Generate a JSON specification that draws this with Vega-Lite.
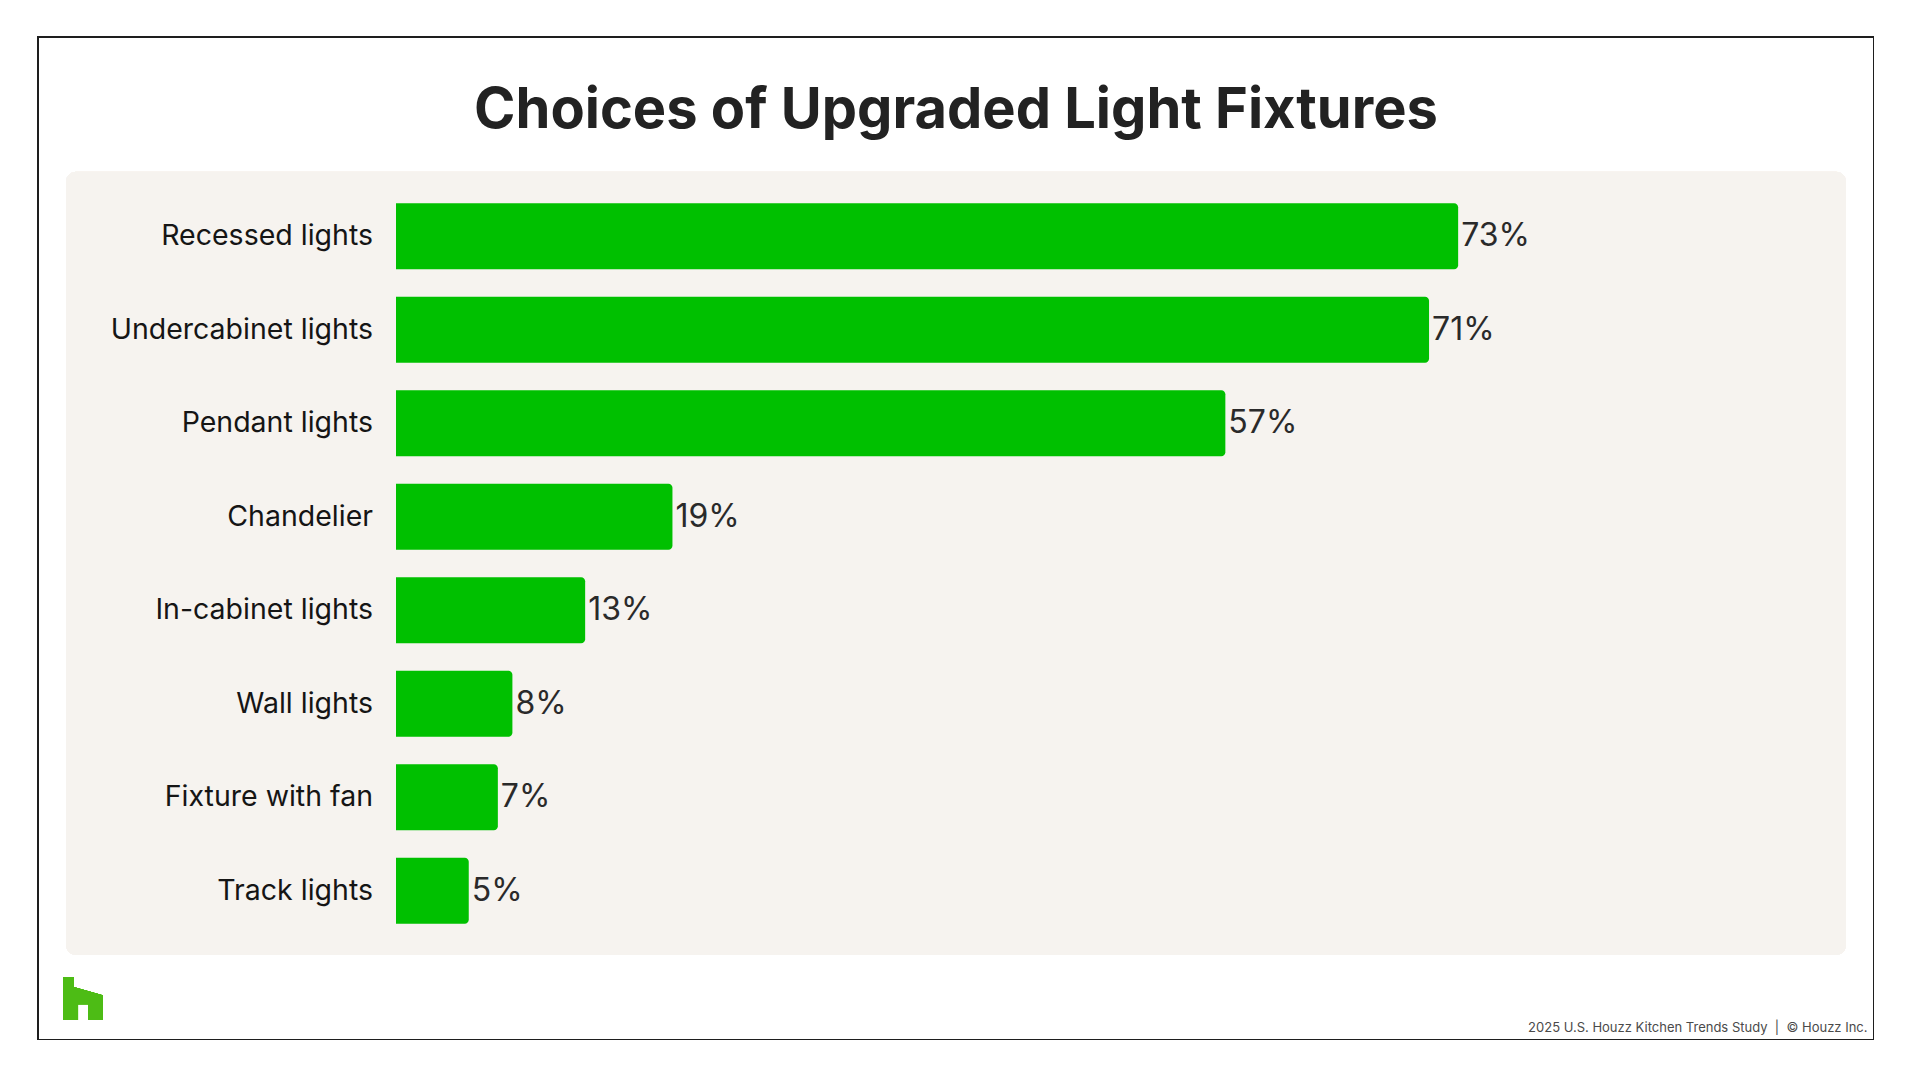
{
  "$schema": "https://vega.github.io/schema/vega-lite/v6.json",
  "width": 1836,
  "height": 1003,
  "padding": {"left": 38, "top": 37, "right": 0, "bottom": 0},
  "background": "white",
  "title": {
    "text": "Choices of Upgraded Light Fixtures",
    "font": "Inter",
    "fontSize": 56,
    "fontWeight": 700,
    "color": "#222222",
    "anchor": "middle",
    "frame": "group",
    "offset": -103
  },
  "data": {
    "values": [
      {"category": "Recessed lights", "rank": 1, "value": 0.73},
      {"category": "Undercabinet lights", "rank": 2, "value": 0.71},
      {"category": "Pendant lights", "rank": 3, "value": 0.57},
      {"category": "Chandelier", "rank": 4, "value": 0.19},
      {"category": "In-cabinet lights", "rank": 5, "value": 0.13},
      {"category": "Wall lights", "rank": 6, "value": 0.08},
      {"category": "Fixture with fan", "rank": 7, "value": 0.07},
      {"category": "Track lights", "rank": 8, "value": 0.05}
    ]
  },
  "layer": [
    {
      "mark": {"type": "rect", "color": "#f6f3ef", "cornerRadius": 10},
      "encoding": {
        "x": {"datum": -0.2268, "type": "quantitative", "scale": {"domain": [-0.24605, 1.01581], "nice": false, "zero": false, "padding": 0}, "title": "2025 U.S. Houzz Kitchen Trends Study \u00a0|\u00a0 © Houzz Inc."},
        "x2": {"datum": 0.99656},
        "y": {"datum": 0.309, "type": "quantitative", "scale": {"domain": [-1.1316, 9.5957], "nice": false, "zero": false, "reverse": true, "padding": 0}},
        "y2": {"datum": 8.6866}
      }
    },
    {
      "mark": {"type": "bar", "orient": "horizontal", "height": 66, "color": "#00c000", "cornerRadiusTopRight": 4, "cornerRadiusBottomRight": 4},
      "encoding": {
        "x": {"field": "value", "type": "quantitative", "title": "2025 U.S. Houzz Kitchen Trends Study \u00a0|\u00a0 © Houzz Inc."},
        "x2": {"datum": 0},
        "y": {"field": "rank", "type": "quantitative"}
      }
    },
    {
      "mark": {"type": "text", "align": "right", "baseline": "middle", "dx": -23, "font": "Inter", "fontSize": 28.5, "color": "#151515"},
      "encoding": {
        "x": {"datum": 0, "type": "quantitative", "title": "2025 U.S. Houzz Kitchen Trends Study \u00a0|\u00a0 © Houzz Inc."},
        "y": {"field": "rank", "type": "quantitative"},
        "text": {"field": "category"}
      }
    },
    {
      "mark": {"type": "text", "align": "left", "baseline": "middle", "dx": 3, "font": "Inter", "fontSize": 32, "color": "#2a2a2a"},
      "encoding": {
        "x": {"field": "value", "type": "quantitative", "title": "2025 U.S. Houzz Kitchen Trends Study \u00a0|\u00a0 © Houzz Inc."},
        "y": {"field": "rank", "type": "quantitative"},
        "text": {"field": "value", "format": ".0%"}
      }
    },
    {
      "mark": {"type": "point", "filled": true, "opacity": 1, "color": "#4dbc15", "strokeWidth": 0, "size": 1849,
        "shape": "M-0.93,-1 L-0.433,-1 L-0.433,-0.535 L0.916,-0.149 L0.916,1 L0.251,1 L0.251,0.27 L-0.233,0.27 L-0.233,1 L-0.93,1 Z"},
      "encoding": {
        "x": {"datum": -0.2151, "type": "quantitative", "title": "2025 U.S. Houzz Kitchen Trends Study \u00a0|\u00a0 © Houzz Inc."},
        "y": {"datum": 9.152, "type": "quantitative"}
      }
    }
  ],
  "config": {
    "view": {"stroke": "#1e1e1e", "strokeWidth": 2},
    "axisY": {"disable": true},
    "axisX": {
      "labels": false,
      "ticks": false,
      "domain": false,
      "grid": false,
      "titleFont": "Inter",
      "titleFontSize": 13,
      "titleFontWeight": "normal",
      "titleColor": "#4a4a4a",
      "titleAlign": "right",
      "titleAnchor": "end",
      "titleBaseline": "alphabetic",
      "titleX": 1829,
      "titleY": -9
    }
  }
}
